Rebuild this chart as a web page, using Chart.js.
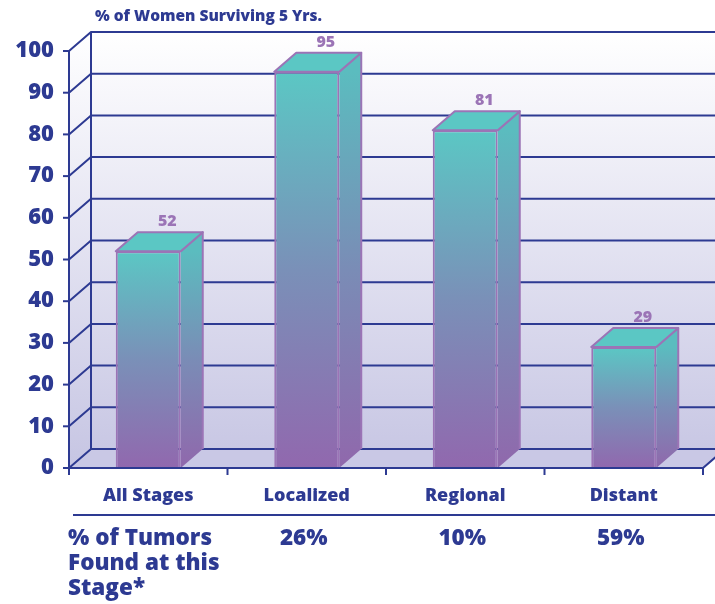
<!DOCTYPE html>
<html>
<head>
<meta charset="utf-8">
<script src="https://cdn.jsdelivr.net/npm/chart.js@4"></script>
<style>
  html, body { margin: 0; padding: 0; background: #fff; }
  canvas { display: block; }
</style>
</head>
<body>
<canvas id="myChart" width="715" height="604"></canvas>
<script>
const categories = ['All Stages', 'Localized', 'Regional', 'Distant'];
const survival = [52, 95, 81, 29];
const tumorShare = ['26%', '10%', '59%'];
const tumorShareCats = ['Localized', 'Regional', 'Distant'];
const title = '% of Women Surviving 5 Yrs.';
const rowLabel = ['% of Tumors', 'Found at this', 'Stage*'];

const NAVY = '#2d3a92';
const PURPLE = '#9b74b6';
const TEAL = '#5bc7c4';
const FONT = '"Open Sans"';
const DX = 22, DY = -19;

function barGradient(c, top, bottom) {
    const g = c.createLinearGradient(0, top, 0, bottom);
    g.addColorStop(0, '#5bc7c4');
    g.addColorStop(0.5, '#7a90b8');
    g.addColorStop(1, '#9168ae');
    return g;
}

const threeD = {
    id: 'threeD',
    beforeDatasetsDraw(chart) {
        const c = chart.ctx, a = chart.chartArea, y = chart.scales.y;
        const W = chart.width;
        c.save();
        // back wall + left wall
        const bg = c.createLinearGradient(0, a.top + DY, 0, a.bottom);
        bg.addColorStop(0, '#ffffff');
        bg.addColorStop(1, '#c6c5e3');
        c.fillStyle = bg;
        c.fillRect(a.left + DX, a.top + DY, W - a.left - DX, a.bottom - a.top);
        c.beginPath();
        c.moveTo(a.left, a.bottom); c.lineTo(a.left, a.top);
        c.lineTo(a.left + DX, a.top + DY); c.lineTo(a.left + DX, a.bottom + DY);
        c.closePath(); c.fill();
        // floor
        c.fillStyle = '#c9c8e5';
        c.beginPath();
        c.moveTo(a.left, a.bottom); c.lineTo(a.right, a.bottom);
        c.lineTo(a.right + DX, a.bottom + DY); c.lineTo(a.left + DX, a.bottom + DY);
        c.closePath(); c.fill();
        // grid
        c.strokeStyle = NAVY; c.lineWidth = 2;
        y.ticks.forEach(t => {
            const py = y.getPixelForValue(t.value);
            c.beginPath();
            c.moveTo(a.left, py); c.lineTo(a.left + DX, py + DY); c.lineTo(W, py + DY);
            c.stroke();
        });
        c.beginPath();
        c.moveTo(a.left + DX, a.top + DY); c.lineTo(a.left + DX, a.bottom + DY);
        c.stroke();
        c.restore();
    },
    afterDatasetsDraw(chart) {
        const c = chart.ctx, a = chart.chartArea, y = chart.scales.y, x = chart.scales.x;
        const meta = chart.getDatasetMeta(0);
        c.save();
        meta.data.forEach((bar, i) => {
            const l = bar.x - bar.width / 2, r = bar.x + bar.width / 2;
            const top = bar.y, base = bar.base;
            c.lineWidth = 2; c.strokeStyle = PURPLE; c.lineJoin = 'round';
            // side
            const sg = c.createLinearGradient(0, top, 0, base);
            sg.addColorStop(0, '#5bbcbf');
            sg.addColorStop(0.5, '#7a8cb6');
            sg.addColorStop(1, '#9068ac');
            c.fillStyle = sg;
            c.beginPath();
            c.moveTo(r, top); c.lineTo(r + DX, top + DY); c.lineTo(r + DX, base + DY); c.lineTo(r, base);
            c.closePath(); c.fill();
            c.beginPath();
            c.moveTo(r, top); c.lineTo(r + DX, top + DY); c.lineTo(r + DX, base + DY);
            c.stroke();
            // top
            c.fillStyle = TEAL;
            c.beginPath();
            c.moveTo(l, top); c.lineTo(l + DX, top + DY); c.lineTo(r + DX, top + DY); c.lineTo(r, top);
            c.closePath(); c.fill(); c.stroke();
            // value label
            c.fillStyle = PURPLE;
            c.font = '800 16px ' + FONT;
            c.textAlign = 'center'; c.textBaseline = 'alphabetic';
            c.fillText(survival[i], bar.x + 19, top + DY - 6);
        });
        // front axes
        c.strokeStyle = NAVY; c.lineWidth = 2;
        c.beginPath();
        c.moveTo(a.left, a.top); c.lineTo(a.left, a.bottom); c.lineTo(a.right, a.bottom);
        c.lineTo(a.right + DX, a.bottom + DY);
        c.stroke();
        y.ticks.forEach(t => {
            const py = y.getPixelForValue(t.value);
            c.beginPath(); c.moveTo(a.left - 6, py); c.lineTo(a.left, py); c.stroke();
        });
        for (let i = 0; i <= categories.length; i++) {
            const px = a.left + (a.right - a.left) * i / categories.length;
            c.beginPath(); c.moveTo(px, a.bottom); c.lineTo(px, a.bottom + 7); c.stroke();
        }
        // title
        c.fillStyle = NAVY;
        c.font = '800 15.5px ' + FONT;
        c.textAlign = 'left'; c.textBaseline = 'middle';
        c.fillText(title, 95, 17);
        // separator
        c.beginPath(); c.moveTo(73, 515); c.lineTo(chart.width, 515); c.stroke();
        // tumor row
        c.font = '800 22.5px ' + FONT;
        rowLabel.forEach((t, i) => c.fillText(t, 68, 539 + i * 25));
        c.textAlign = 'center';
        tumorShare.forEach((t, i) => {
            c.fillText(t, x.getPixelForValue(categories.indexOf(tumorShareCats[i])) - 3, 539);
        });
        c.restore();
    }
};

new Chart(document.getElementById('myChart'), {
    type: 'bar',
    data: {
        labels: categories,
        datasets: [{
            data: survival,
            backgroundColor: ctx => {
                const ch = ctx.chart;
                if (!ch.chartArea) return TEAL;
                const ys = ch.scales.y;
                return barGradient(ch.ctx, ys.getPixelForValue(ctx.raw), ys.getPixelForValue(0));
            },
            borderColor: PURPLE,
            borderWidth: 2,
            borderSkipped: 'bottom',
            categoryPercentage: 1,
            barPercentage: 0.41
        }]
    },
    plugins: [threeD],
    options: {
        responsive: false,
        devicePixelRatio: 1,
        animation: false,
        layout: { padding: { top: 51, right: 12, left: 0, bottom: 0 } },
        plugins: { legend: { display: false }, tooltip: { enabled: false }, title: { display: false } },
        scales: {
            y: {
                min: 0, max: 100,
                ticks: { stepSize: 10, color: NAVY, font: { family: FONT, weight: 800, size: 22 }, padding: 15 },
                grid: { display: false, drawTicks: false },
                border: { display: false },
                afterFit: s => { s.width = 69; }
            },
            x: {
                ticks: { color: NAVY, font: { family: FONT, weight: 800, size: 18 }, padding: 17 },
                grid: { display: false, drawTicks: false },
                border: { display: false },
                afterFit: s => { s.height = 136; }
            }
        }
    }
});
</script>
</body>
</html>
